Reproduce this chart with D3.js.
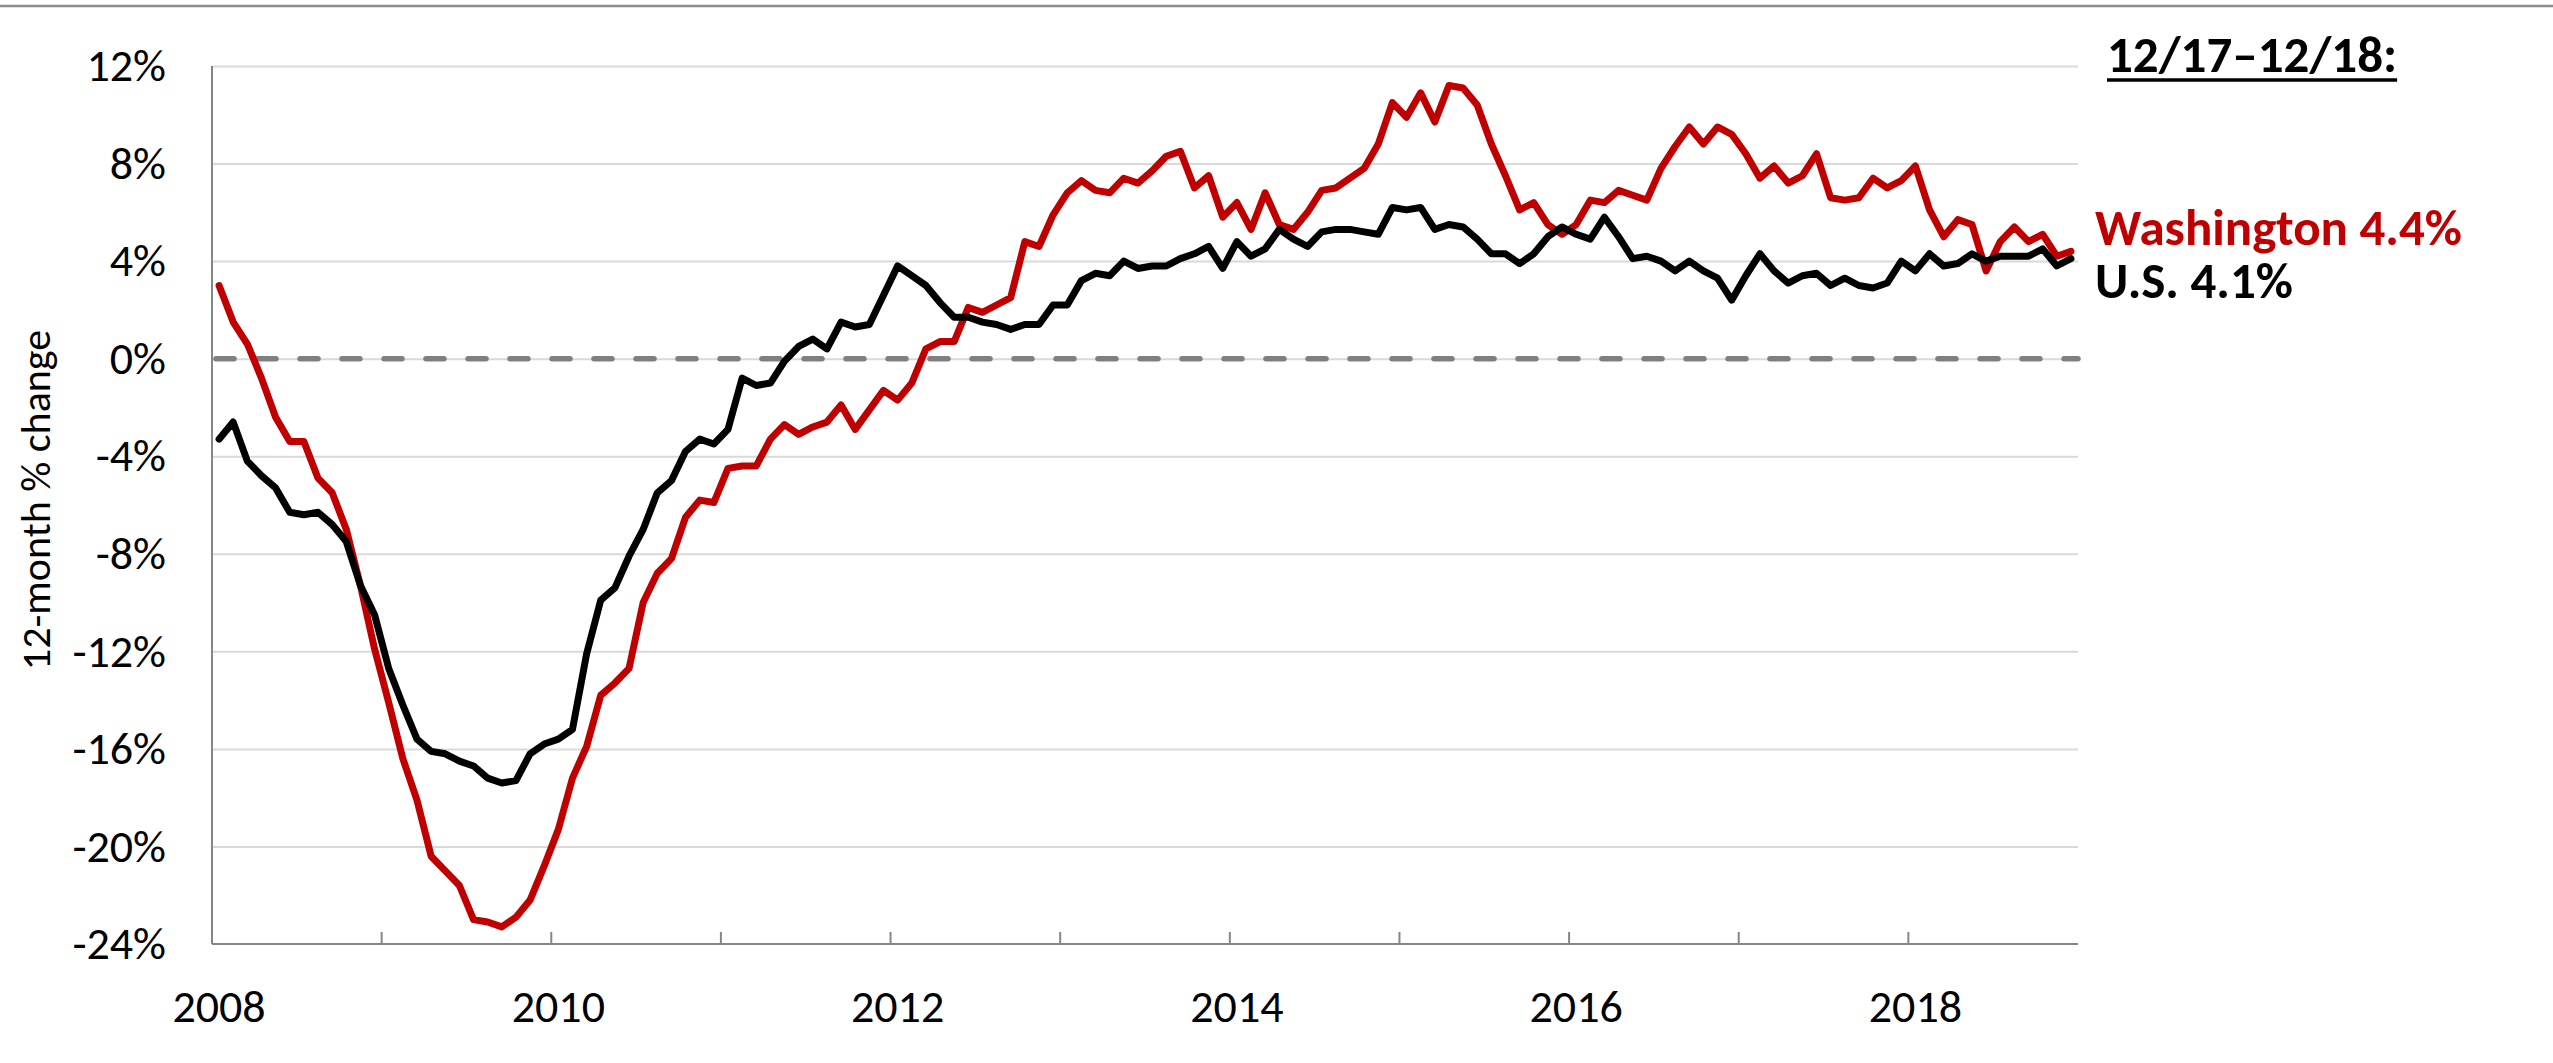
<!DOCTYPE html>
<html>
<head>
<meta charset="utf-8">
<script src="https://cdn.jsdelivr.net/npm/d3@7"></script>
<style>
    body { margin: 0; background: #fff; }
    svg { display: block; font-family: Calibri, Carlito, Lato, sans-serif; }
</style>
</head>
<body>
<div id="chart-container"></div>
<script>
// Years on the category axis, one category per month.
const years = ["2008", "2009", "2010", "2011", "2012", "2013", "2014", "2015", "2016", "2017", "2018"];
const monthNumbers = ["01", "02", "03", "04", "05", "06", "07", "08", "09", "10", "11", "12"];
const months = years.flatMap(yr => monthNumbers.map(m => yr + "-" + m));

const xTickLabels = ["2008", "2010", "2012", "2014", "2016", "2018"];
const yTickValues = [12, 8, 4, 0, -4, -8, -12, -16, -20, -24];

// 12-month % change, Jan 2008 - Dec 2018.
const washington = [
    3.0, 1.5, 0.6, -0.8, -2.4, -3.4, -3.4, -4.9, -5.5, -7.0, -9.3, -11.9,
    -14.1, -16.4, -18.1, -20.4, -21.0, -21.6, -23.0, -23.1, -23.3, -22.9, -22.2, -20.8,
    -19.3, -17.2, -15.9, -13.8, -13.3, -12.7, -10.0, -8.8, -8.2, -6.5, -5.8, -5.9,
    -4.5, -4.4, -4.4, -3.3, -2.7, -3.1, -2.8, -2.6, -1.9, -2.9, -2.1, -1.3,
    -1.7, -1.0, 0.4, 0.7, 0.7, 2.1, 1.9, 2.2, 2.5, 4.8, 4.6, 5.9,
    6.8, 7.3, 6.9, 6.8, 7.4, 7.2, 7.7, 8.3, 8.5, 7.0, 7.5, 5.8,
    6.4, 5.3, 6.8, 5.5, 5.3, 6.0, 6.9, 7.0, 7.4, 7.8, 8.8, 10.5,
    9.9, 10.9, 9.7, 11.2, 11.1, 10.4, 8.8, 7.5, 6.1, 6.4, 5.5, 5.1,
    5.5, 6.5, 6.4, 6.9, 6.7, 6.5, 7.8, 8.7, 9.5, 8.8, 9.5, 9.2,
    8.4, 7.4, 7.9, 7.2, 7.5, 8.4, 6.6, 6.5, 6.6, 7.4, 7.0, 7.3,
    7.9, 6.1, 5.0, 5.7, 5.5, 3.6, 4.8, 5.4, 4.8, 5.1, 4.2, 4.4
];

const us = [
    -3.3, -2.6, -4.2, -4.8, -5.3, -6.3, -6.4, -6.3, -6.8, -7.5, -9.3, -10.5,
    -12.7, -14.2, -15.6, -16.1, -16.2, -16.5, -16.7, -17.2, -17.4, -17.3, -16.2, -15.8,
    -15.6, -15.2, -12.1, -9.9, -9.4, -8.1, -7.0, -5.5, -5.0, -3.8, -3.3, -3.5,
    -2.9, -0.8, -1.1, -1.0, -0.1, 0.5, 0.8, 0.4, 1.5, 1.3, 1.4, 2.6,
    3.8, 3.4, 3.0, 2.3, 1.7, 1.7, 1.5, 1.4, 1.2, 1.4, 1.4, 2.2,
    2.2, 3.2, 3.5, 3.4, 4.0, 3.7, 3.8, 3.8, 4.1, 4.3, 4.6, 3.7,
    4.8, 4.2, 4.5, 5.3, 4.9, 4.6, 5.2, 5.3, 5.3, 5.2, 5.1, 6.2,
    6.1, 6.2, 5.3, 5.5, 5.4, 4.9, 4.3, 4.3, 3.9, 4.3, 5.0, 5.4,
    5.1, 4.9, 5.8, 5.0, 4.1, 4.2, 4.0, 3.6, 4.0, 3.6, 3.3, 2.4,
    3.4, 4.3, 3.6, 3.1, 3.4, 3.5, 3.0, 3.3, 3.0, 2.9, 3.1, 4.0,
    3.6, 4.3, 3.8, 3.9, 4.3, 4.0, 4.2, 4.2, 4.2, 4.5, 3.8, 4.1
];

const legendTitle = "12/17\u201312/18:";
const legendLabels = ["Washington 4.4%", "U.S. 4.1%"];

const chartWidth = 2553;
const chartHeight = 1063;
const plotLeft = 212;
const plotRight = 2078;
const plotTop = 66;
const plotBottom = 944;

const x = d3.scaleBand()
    .domain(months)
    .range([plotLeft, plotRight]);

const y = d3.scaleLinear()
    .domain([-24, 12])
    .range([plotBottom, plotTop]);

const xMid = m => x(m) + x.bandwidth() / 2;

const chart = d3.select("#chart-container").append("svg")
    .attr("width", chartWidth)
    .attr("height", chartHeight);

chart.append("rect")
    .attr("width", chartWidth)
    .attr("height", chartHeight)
    .attr("fill", "#fff");

// thin rule along the top edge
chart.append("line")
    .attr("x1", 0).attr("x2", chartWidth)
    .attr("y1", 6).attr("y2", 6)
    .attr("stroke", "#8c8c8c")
    .attr("stroke-width", 2.5);

// gridlines
chart.append("g")
    .attr("transform", `translate(${plotLeft}, 0)`)
    .call(d3.axisLeft(y).tickValues(yTickValues.filter(d => d !== -24)).tickSize(-(plotRight - plotLeft)).tickFormat(""))
    .call(g => g.select(".domain").remove())
    .call(g => g.selectAll("line").attr("stroke", "#d9d9d9").attr("stroke-width", 2));

// zero line
chart.append("line")
    .attr("x1", plotLeft + 4).attr("x2", plotRight)
    .attr("y1", y(0)).attr("y2", y(0))
    .attr("stroke", "#808080")
    .attr("stroke-width", 5.5)
    .attr("stroke-linecap", "round")
    .attr("stroke-dasharray", "18,24");

// y tick labels
chart.append("g")
    .attr("transform", `translate(${plotLeft}, 0)`)
    .call(d3.axisLeft(y).tickValues(yTickValues).tickSize(0).tickPadding(46).tickFormat(d => d + "%"))
    .call(g => g.select(".domain").remove())
    .call(g => g.selectAll("text")
        .attr("fill", "#000")
        .style("font-family", "Calibri, Carlito, Lato, sans-serif")
        .style("font-size", "46px"));

// axis lines
chart.append("line")
    .attr("x1", plotLeft).attr("x2", plotLeft)
    .attr("y1", plotTop).attr("y2", plotBottom)
    .attr("stroke", "#868686").attr("stroke-width", 2);

chart.append("line")
    .attr("x1", plotLeft).attr("x2", plotRight)
    .attr("y1", plotBottom).attr("y2", plotBottom)
    .attr("stroke", "#868686").attr("stroke-width", 2);

// year tick marks, pointing into the plot
chart.append("g")
    .selectAll("line")
    .data(years.map(yr => yr + "-01"))
    .enter()
    .append("line")
    .attr("x1", d => x(d)).attr("x2", d => x(d))
    .attr("y1", plotBottom).attr("y2", plotBottom - 12)
    .attr("stroke", "#868686").attr("stroke-width", 2);

// x tick labels
chart.append("g")
    .selectAll("text")
    .data(xTickLabels)
    .enter()
    .append("text")
    .attr("x", d => xMid(d + "-01"))
    .attr("y", 1022)
    .attr("text-anchor", "middle")
    .style("font-size", "46px")
    .text(d => d);

// y axis title
chart.append("text")
    .attr("transform", "translate(50, 500) rotate(-90)")
    .attr("text-anchor", "middle")
    .style("font-size", "42px")
    .text("12-month % change");

const line = d3.line()
    .x((d, i) => xMid(months[i]))
    .y(d => y(d));

chart.append("path")
    .datum(washington)
    .attr("d", line)
    .attr("fill", "none")
    .attr("stroke", "#c00000")
    .attr("stroke-width", 7)
    .attr("stroke-linejoin", "round")
    .attr("stroke-linecap", "round");

chart.append("path")
    .datum(us)
    .attr("d", line)
    .attr("fill", "none")
    .attr("stroke", "#000")
    .attr("stroke-width", 7)
    .attr("stroke-linejoin", "round")
    .attr("stroke-linecap", "round");

// legend
const legendTitleText = chart.append("text")
    .attr("x", 2107)
    .attr("y", 72)
    .style("font-size", "51px")
    .style("font-weight", "bold")
    .text(legendTitle);

const titleBox = legendTitleText.node().getBBox();
chart.append("line")
    .attr("x1", titleBox.x).attr("x2", titleBox.x + titleBox.width)
    .attr("y1", 80).attr("y2", 80)
    .attr("stroke", "#000").attr("stroke-width", 3.5);

chart.append("text")
    .attr("x", 2095)
    .attr("y", 245)
    .attr("fill", "#c00000")
    .style("font-size", "51px")
    .style("font-weight", "bold")
    .text(legendLabels[0]);

chart.append("text")
    .attr("x", 2095)
    .attr("y", 298)
    .attr("fill", "#000")
    .style("font-size", "51px")
    .style("font-weight", "bold")
    .text(legendLabels[1]);
</script>
</body>
</html>
